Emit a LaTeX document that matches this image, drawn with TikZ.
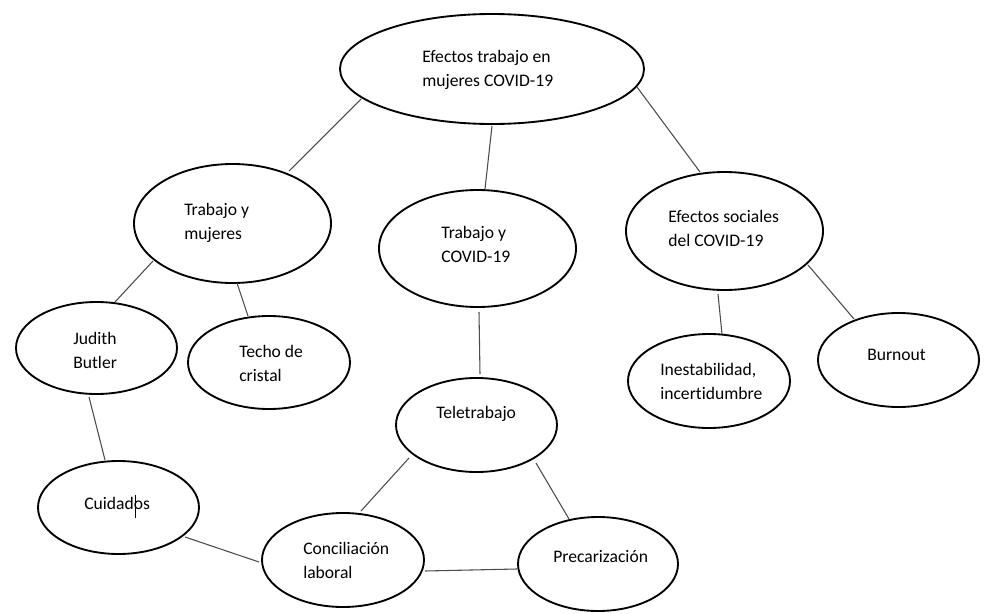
\documentclass[tikz,border=0pt]{standalone}
\usepackage{fontspec}
\setmainfont[Ligatures={NoCommon}]{Carlito}
\usetikzlibrary{shapes.geometric}
\tikzset{
  ell/.style={ellipse, draw=black, line width=1.4pt, inner sep=0pt, outer sep=0pt},
  lbl/.style={anchor=west, align=left, inner sep=0pt, font=\fontsize{13.2pt}{18pt}\selectfont, text=black},
  conn/.style={draw=black!70, line width=0.8pt},
}
\begin{document}
\begin{tikzpicture}[x=0.75pt, y=-0.75pt]
\useasboundingbox[fill=white] (0,0) rectangle (1000,614);
% ellipses (center, 2rx, 2ry in px)
\node[ell, minimum width=304*0.75pt, minimum height=110*0.75pt] (top) at (492,69) {};
\node[ell, minimum width=197*0.75pt, minimum height=119*0.75pt] (tm) at (232.5,223.5) {};
\node[ell, minimum width=197*0.75pt, minimum height=117*0.75pt] (tc) at (477.5,248.5) {};
\node[ell, minimum width=197*0.75pt, minimum height=118*0.75pt] (es) at (724.5,231) {};
\node[ell, minimum width=161*0.75pt, minimum height=92*0.75pt] (jb) at (96.5,348) {};
\node[ell, minimum width=162*0.75pt, minimum height=93*0.75pt] (td) at (269,362.5) {};
\node[ell, minimum width=161*0.75pt, minimum height=94*0.75pt] (tt) at (476.5,425) {};
\node[ell, minimum width=162*0.75pt, minimum height=94*0.75pt] (in) at (709,381) {};
\node[ell, minimum width=161*0.75pt, minimum height=94*0.75pt] (bu) at (898.5,360) {};
\node[ell, minimum width=161*0.75pt, minimum height=93*0.75pt] (cu) at (118.5,507.5) {};
\node[ell, minimum width=162*0.75pt, minimum height=94*0.75pt] (co) at (343,560) {};
\node[ell, minimum width=160*0.75pt, minimum height=94*0.75pt] (pr) at (598,564) {};
% labels
\node[lbl] (topT) at (422,70) {Efectos trabajo en\\mujeres COVID-19};
\node[lbl] (tmT) at (184,223) {Trabajo y\\mujeres};
\node[lbl] (tcT) at (441,244.5) {Trabajo y\\COVID-19};
\node[lbl] (esT) at (668,228) {Efectos sociales\\del COVID-19};
\node[lbl] (jbT) at (73,350.5) {Judith\\Butler};
\node[lbl] (tdT) at (239,363) {Techo de\\cristal};
\node[lbl] (ttT) at (436,414) {Teletrabajo};
\node[lbl] (inT) at (660,381.5) {Inestabilidad,\\incertidumbre};
\node[lbl] (buT) at (867,355) {Burnout};
\node[lbl] (cuT) at (84,503) {Cuidados};
\node[lbl] (coT) at (303,560.5) {Conciliación\\laboral};
\node[lbl] (prT) at (553,557) {Precarización};
% text cursor in "Cuidados"
\draw[black, line width=0.7pt] (135,495) -- (135,518);
% connectors
\draw[conn] ([shift={(-131,30)}]top.center) -- ([shift={(56.5,-52.5)}]tm.center);
\draw[conn] ([shift={(0,57)}]top.center) -- ([shift={(7.5,-59.5)}]tc.center);
\draw[conn] ([shift={(145,18)}]top.center) -- ([shift={(-24.5,-59)}]es.center);
\draw[conn] ([shift={(-79.5,37.5)}]tm.center) -- ([shift={(18.5,-46)}]jb.center);
\draw[conn] ([shift={(4.5,59.5)}]tm.center) -- ([shift={(-21,-46.5)}]td.center);
\draw[conn] ([shift={(1.5,63.5)}]tc.center) -- ([shift={(3.5,-51)}]tt.center);
\draw[conn] ([shift={(-6.5,63)}]es.center) -- ([shift={(13,-47)}]in.center);
\draw[conn] ([shift={(83.5,34)}]es.center) -- ([shift={(-44.5,-41)}]bu.center);
\draw[conn] ([shift={(-7.5,49)}]jb.center) -- ([shift={(-13.5,-47.5)}]cu.center);
\draw[conn] ([shift={(-67.5,33)}]tt.center) -- ([shift={(18,-49)}]co.center);
\draw[conn] ([shift={(59.5,38)}]tt.center) -- ([shift={(-29,-45)}]pr.center);
\draw[conn] ([shift={(66.5,29.5)}]cu.center) -- ([shift={(-84,2)}]co.center);
\draw[conn] ([shift={(82,11)}]co.center) -- ([shift={(-81,5)}]pr.center);
\end{tikzpicture}
\end{document}
